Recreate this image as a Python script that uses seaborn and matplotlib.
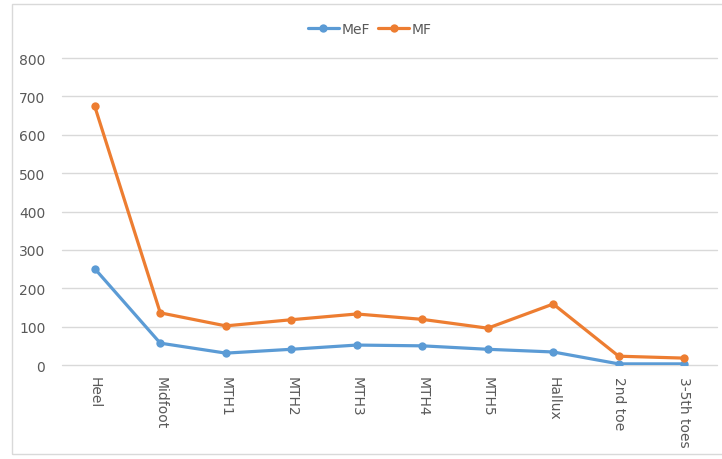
import pandas as pd
import matplotlib.pyplot as plt
import seaborn as sns
from matplotlib.patches import Rectangle

regions = ["Heel", "Midfoot", "MTH1", "MTH2", "MTH3", "MTH4", "MTH5",
           "Hallux", "2nd toe", "3-5th toes"]
mef = [251, 57, 31, 41, 52, 50, 41, 34, 3, 3]
mf = [674, 136, 102, 118, 133, 119, 96, 159, 23, 18]

df = pd.DataFrame({
    "region": regions * 2,
    "value": mef + mf,
    "series": ["MeF"] * len(regions) + ["MF"] * len(regions),
})

sns.set_style("white")
plt.rcParams['font.family'] = ['DejaVu Sans']

fig = plt.figure(figsize=(7.22, 4.6), dpi=100)
ax = fig.add_axes([0.0859, 0.2043, 0.9071, 0.6674])

# chart frame (right edge falls outside the image)
fig.patches.append(Rectangle((12 / 722, 5 / 460), 740 / 722, 450 / 460,
                             transform=fig.transFigure, fill=False,
                             edgecolor="#D9D9D9", linewidth=1))

sns.lineplot(data=df, x="region", y="value", hue="series", sort=False,
             palette={"MeF": "#5B9BD5", "MF": "#ED7D31"},
             marker="o", markersize=6, markeredgewidth=0,
             linewidth=2.3, ax=ax)

ax.set_xlim(-0.5, len(regions) - 0.5)
ax.set_ylim(0, 800)
ax.set_yticks(range(0, 801, 100))
ax.grid(axis="y", color="#D9D9D9", linewidth=1)
ax.set_axisbelow(True)
for line in ax.get_ygridlines():
    line.set_clip_on(False)
for s in ax.spines.values():
    s.set_visible(False)
ax.set_xlabel("")
ax.set_ylabel("")
ax.tick_params(axis="both", length=0, colors="#595959", labelsize=10)
ax.tick_params(axis="x", pad=8)
ax.tick_params(axis="y", pad=12)
plt.setp(ax.get_xticklabels(), rotation=-90, va="top", ha="center")

leg = ax.legend(loc="center", bbox_to_anchor=(0.47, 1.095), ncol=2,
                frameon=False, fontsize=10, handlelength=2.2,
                columnspacing=0.6, handletextpad=0.2)
for t in leg.get_texts():
    t.set_color("#595959")

fig.savefig("out.png", dpi=100)
